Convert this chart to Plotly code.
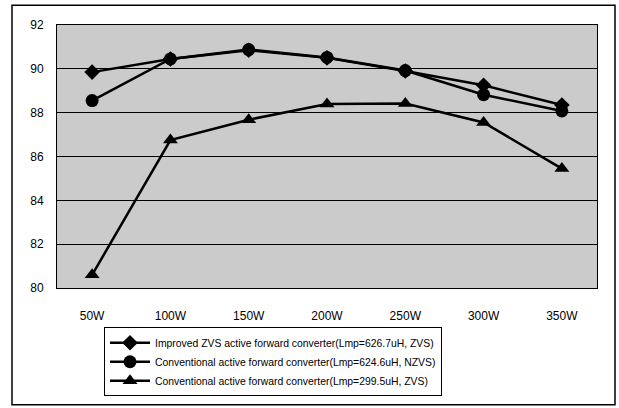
import plotly.graph_objects as go

# Output power steps and measured efficiency (%) for each converter
power = ["50W", "100W", "150W", "200W", "250W", "300W", "350W"]
improved_zvs = [89.85, 90.45, 90.85, 90.5, 89.9, 89.25, 88.35]
conv_nzvs = [88.55, 90.45, 90.88, 90.52, 89.92, 88.82, 88.08]
conv_zvs = [80.6, 86.75, 87.68, 88.4, 88.42, 87.55, 85.45]

names = [
    "Improved ZVS active forward converter(Lmp=626.7uH, ZVS)",
    "Conventional active forward converter(Lmp=624.6uH, NZVS)",
    "Conventional active forward converter(Lmp=299.5uH, ZVS)",
]
y_ticks = [80, 82, 84, 86, 88, 90, 92]

fig = go.Figure()
series = [
    (improved_zvs, "diamond", 12),
    (conv_nzvs, "circle", 13),
    (conv_zvs, "triangle-up", 13),
]
for (vals, sym, size), nm in zip(series, names):
    fig.add_trace(go.Scatter(
        x=power, y=vals, name=nm, mode="lines+markers",
        line=dict(color="black", width=2.5),
        marker=dict(symbol=sym, size=size, color="black"),
    ))

W, H = 619, 408
L, R, T, B = 57, 597, 25, 293
pw, ph = R - L, B - T

def px(x):
    return (x - L) / pw

def py(y):
    return (B - y) / ph

fig.update_layout(
    width=W, height=H,
    margin=dict(l=L, r=W - R, t=T, b=H - B),
    paper_bgcolor="white",
    plot_bgcolor="#cbcbcb",
    font=dict(family="Liberation Sans, Arial, sans-serif", color="black", size=12),
    showlegend=True,
    legend=dict(
        x=px(104), y=py(333), xanchor="left", yanchor="top",
        bgcolor="white", bordercolor="black", borderwidth=1,
        font=dict(size=10.4), tracegroupgap=0,
        itemwidth=40,
    ),
    xaxis=dict(
        type="category", showgrid=False, ticks="outside", ticklen=0,
        showline=True, linecolor="black", linewidth=1, mirror=True,
        tickfont=dict(size=12), ticklabelstandoff=17,
    ),
    yaxis=dict(
        range=[80, 92], tickvals=y_ticks, showgrid=True,
        gridcolor="black", gridwidth=1,
        showline=True, linecolor="black", linewidth=1, mirror=True,
        tickfont=dict(size=12), ticklabelstandoff=10, zeroline=False,
    ),
    shapes=[
        dict(type="rect", xref="paper", yref="paper",
             x0=px(12), x1=px(615), y0=py(412), y1=py(5),
             line=dict(color="black", width=1.5), fillcolor="rgba(0,0,0,0)",
             layer="below"),
    ],
)

fig.write_html("out.html")
